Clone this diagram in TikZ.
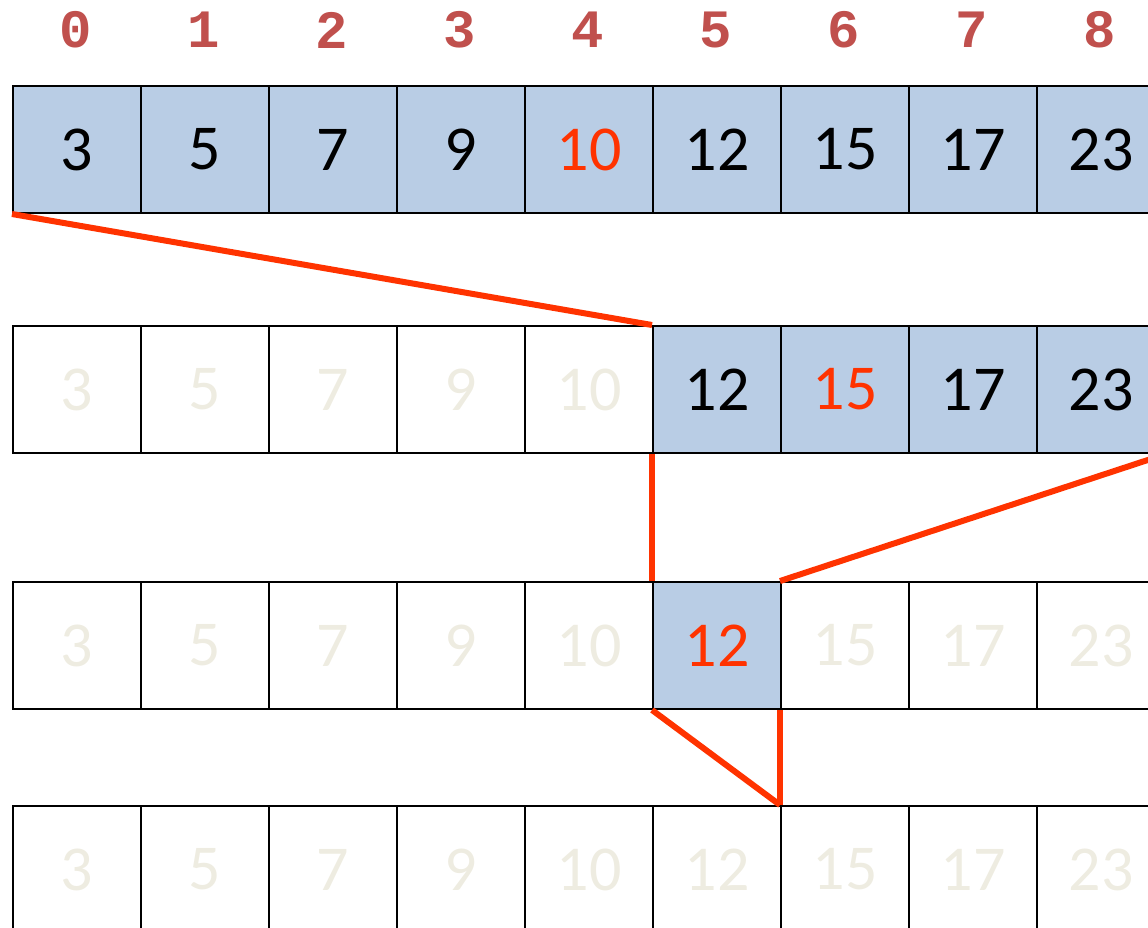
\documentclass[tikz,border=0pt]{standalone}
\usepackage{fontspec}
\setmainfont{Carlito}
\newfontfamily\idxfont{Liberation Mono}
\usetikzlibrary{positioning}
\definecolor{CellBlue}{RGB}{185,205,229}
\definecolor{IndexRed}{RGB}{192,80,77}
\definecolor{HitRed}{RGB}{255,51,0}
\definecolor{FadeGray}{RGB}{238,236,225}

\begin{document}
\begin{tikzpicture}[x=0.5pt,y=-0.5pt,
  cell/.style={draw,line width=1pt,minimum width=64pt,minimum height=63.5pt,
    inner sep=0pt,anchor=north west,font=\fontsize{32}{32}\selectfont},
  live/.style={cell,fill=CellBlue},
  hit/.style={cell,fill=CellBlue,text=HitRed},
  gone/.style={cell,text=FadeGray},
  idx/.style={text=IndexRed,font=\idxfont\bfseries\fontsize{27}{27}\selectfont},
  cut/.style={HitRed,line width=3pt}]
  \useasboundingbox (0,0) rectangle (1148,928);
  \clip (0,0) rectangle (1148,928);
  % indices
  \foreach \i in {0,...,8}
    \node[idx] (n\i) at (76+128*\i,30) {\i};
  % step 1: whole array
  \foreach \v/\s [count=\i from 0] in {3/live,5/live,7/live,9/live,10/hit,12/live,15/live,17/live,23/live}
    \node[\s] (a\i) at (12+128*\i,85) {\v};
  % step 2: right half
  \foreach \v/\s [count=\i from 0] in {3/gone,5/gone,7/gone,9/gone,10/gone,12/live,15/hit,17/live,23/live}
    \node[\s] (b\i) at (12+128*\i,325) {\v};
  % step 3: one cell left
  \foreach \v/\s [count=\i from 0] in {3/gone,5/gone,7/gone,9/gone,10/gone,12/hit,15/gone,17/gone,23/gone}
    \node[\s] (c\i) at (12+128*\i,581) {\v};
  % step 4: empty
  \foreach \v [count=\i from 0] in {3,5,7,9,10,12,15,17,23}
    \node[gone] (d\i) at (12+128*\i,805) {\v};
  \draw[cut] (a0.south west) -- (b5.north west);
  \draw[cut] (b5.south west) -- (c5.north west);
  \draw[cut] (b8.south east) -- (c6.north west);
  \draw[cut] (c5.south west) -- (d6.north west);
  \draw[cut] (c6.south west) -- (d6.north west);
\end{tikzpicture}
\end{document}
